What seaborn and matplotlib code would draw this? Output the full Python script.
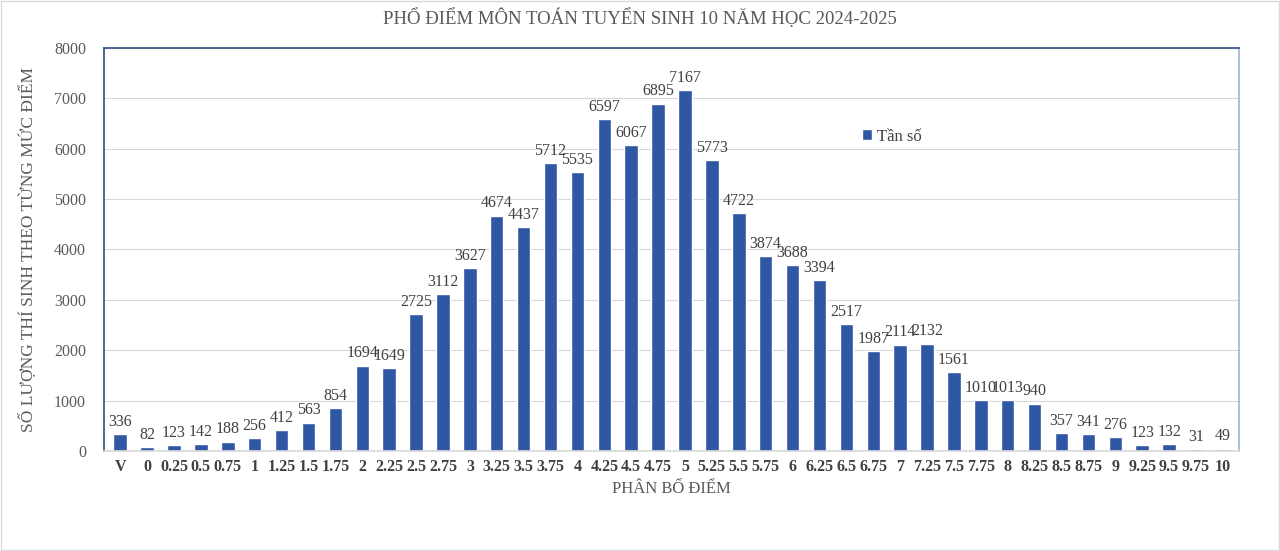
import pandas as pd
import numpy as np
import seaborn as sns
import matplotlib.pyplot as plt

diem = ["V", "0", "0.25", "0.5", "0.75", "1", "1.25", "1.5", "1.75", "2", "2.25",
        "2.5", "2.75", "3", "3.25", "3.5", "3.75", "4", "4.25", "4.5", "4.75", "5",
        "5.25", "5.5", "5.75", "6", "6.25", "6.5", "6.75", "7", "7.25", "7.5", "7.75",
        "8", "8.25", "8.5", "8.75", "9", "9.25", "9.5", "9.75", "10"]
tan_so = [336, 82, 123, 142, 188, 256, 412, 563, 854, 1694, 1649,
          2725, 3112, 3627, 4674, 4437, 5712, 5535, 6597, 6067, 6895, 7167,
          5773, 4722, 3874, 3688, 3394, 2517, 1987, 2114, 2132, 1561, 1010,
          1013, 940, 357, 341, 276, 123, 132, 31, 49]

df = pd.DataFrame({"diem": diem, "tan_so": tan_so})

sns.set_style("white")
plt.rcParams['font.family'] = ['Liberation Serif', 'DejaVu Serif']

fig = plt.figure(figsize=(12.8, 5.51), dpi=100)
ax = fig.add_axes([0.0813, 0.1815, 0.8867, 0.7314])

sns.barplot(data=df, x="diem", y="tan_so", color="#3057a3", width=0.5,
            saturation=1, ax=ax, label="Tần số")
ax.bar_label(ax.containers[0], fontsize=11.5, color="#404040", padding=3)

ax.set_ylim(0, 8000)
ax.set_yticks(np.arange(0, 8001, 1000))
ax.yaxis.grid(True, color="#d9d9d9", linewidth=0.8)
ax.set_axisbelow(True)
ax.set_xlim(-0.6, len(diem) - 0.4)

for lbl in ax.get_xticklabels():
    lbl.set_fontweight("bold")
ax.tick_params(axis="x", labelsize=11.5, colors="#404040", length=0, pad=6)
ax.tick_params(axis="y", labelsize=11.5, colors="#595959", length=0, pad=13)

ax.spines["top"].set_color("#2F4F7F")
ax.spines["left"].set_color("#2F4F7F")
ax.spines["right"].set_color("#9fb0d8")
ax.spines["bottom"].set_color("#d9d9d9")
for s in ax.spines.values():
    s.set_linewidth(1.2)

ax.set_xlabel("PHÂN BỐ ĐIỂM", fontsize=12, color="#595959", labelpad=4)
ax.set_ylabel("SỐ LƯỢNG THÍ SINH THEO TỪNG MỨC ĐIỂM", fontsize=12.5, color="#595959", labelpad=13)
fig.suptitle("PHỔ ĐIỂM MÔN TOÁN TUYỂN SINH 10 NĂM HỌC 2024-2025", fontsize=13.5,
             color="#595959", y=0.985)

ax.legend(loc="center left", bbox_to_anchor=(0.655, 0.78), frameon=False,
          fontsize=12, handlelength=0.6, handleheight=0.6, handletextpad=0.3,
          labelcolor="#404040")

fig.patches.append(plt.Rectangle((0.001, 0.001), 0.998, 0.997, transform=fig.transFigure,
                                 fill=False, edgecolor="#d9d9d9", linewidth=1))

plt.savefig("out.png", dpi=100)
